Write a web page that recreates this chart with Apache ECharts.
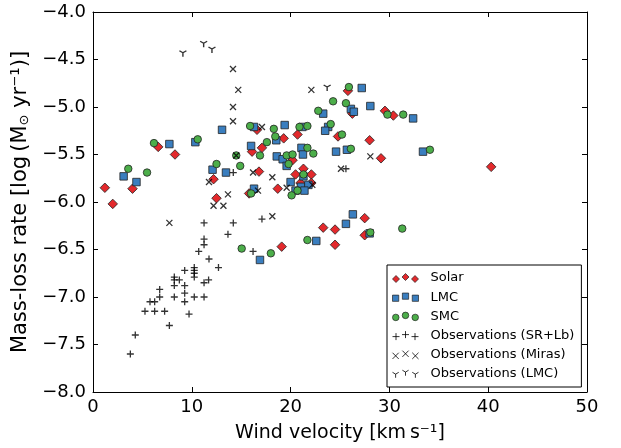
<!DOCTYPE html>
<html>
<head>
<meta charset="utf-8">
<script src="https://cdn.jsdelivr.net/npm/echarts@6/dist/echarts.min.js"></script>
<style>
html,body{margin:0;padding:0;background:#fff;}
#chart{width:621px;height:448px;}
</style>
</head>
<body>
<div id="chart"></div>
<script>
// ---- data: [wind velocity (km/s), log mass-loss rate] ----
var solar = [
  [1.2,-5.85],[2.0,-6.02],[4.0,-5.86],[6.6,-5.42],[8.3,-5.50],[12.2,-5.76],[12.5,-5.96],
  [16.1,-5.47],[15.8,-5.91],[16.8,-5.68],[16.6,-5.24],[17.1,-5.43],[19.3,-5.33],[20.7,-5.29],
  [24.8,-5.31],[28.0,-5.35],[29.15,-5.54],[20.2,-5.56],[21.3,-5.65],[20.5,-5.71],[22.1,-5.71],
  [18.7,-5.86],[21.0,-5.80],[22.1,-5.80],[27.5,-6.17],[23.3,-6.27],[24.5,-6.29],[27.5,-6.35],
  [24.5,-6.45],[19.1,-6.47],[40.3,-5.63],[25.8,-4.83],[26.25,-5.07],[29.55,-5.04],[30.4,-5.09]
];
var lmc = [
  [13.06,-5.24],[16.3,-5.21],[27.2,-4.80],[28.07,-4.99],[26.1,-5.02],[26.4,-5.05],[23.3,-5.07],
  [32.4,-5.12],[19.4,-5.19],[21.2,-5.21],[23.8,-5.21],[23.5,-5.25],[18.55,-5.35],[21.1,-5.43],
  [24.6,-5.47],[25.7,-5.45],[33.4,-5.47],[18.6,-5.52],[19.2,-5.55],[21.25,-5.50],[19.6,-5.62],
  [21.3,-5.73],[20.0,-5.79],[21.05,-5.84],[21.8,-5.82],[20.5,-5.88],[21.4,-5.88],[26.3,-6.13],
  [25.6,-6.23],[28.0,-6.33],[22.6,-6.41],[16.9,-6.61],[7.73,-5.39],[10.36,-5.37],[3.1,-5.73],
  [4.4,-5.79],[12.1,-5.66],[13.46,-5.69],[16.0,-5.41],[16.3,-5.86]
];
var smc = [
  [15.9,-5.20],[10.6,-5.34],[25.9,-4.79],[24.3,-4.94],[25.6,-4.96],[22.8,-5.04],[24.06,-5.18],
  [29.8,-5.08],[31.4,-5.08],[18.3,-5.23],[20.9,-5.21],[21.7,-5.20],[18.45,-5.31],[25.2,-5.29],
  [17.6,-5.37],[16.9,-5.51],[26.1,-5.44],[19.6,-5.51],[20.2,-5.50],[21.7,-5.43],[22.3,-5.49],
  [19.8,-5.60],[21.3,-5.71],[20.7,-5.88],[20.1,-5.93],[28.07,-6.32],[31.3,-6.28],[21.7,-6.40],
  [18.0,-6.54],[34.1,-5.45],[6.17,-5.38],[3.57,-5.65],[5.47,-5.69],[12.5,-5.60],[14.5,-5.51],
  [14.9,-5.62],[16.0,-5.91],[15.05,-6.49]
];
var obsSRLb = [
  [14.2,-5.69],[11.24,-6.22],[14.2,-6.22],[13.66,-6.34],[11.24,-6.39],[11.24,-6.45],[10.7,-6.52],
  [11.74,-6.60],[16.2,-6.52],[9.28,-6.72],[10.25,-6.69],[10.25,-6.72],[10.25,-6.75],[10.25,-6.79],
  [12.7,-6.69],[8.23,-6.79],[8.23,-6.82],[8.74,-6.82],[8.23,-6.88],[9.28,-6.88],[9.28,-6.96],
  [8.23,-7.00],[10.25,-7.00],[11.24,-7.00],[11.24,-6.85],[11.7,-6.82],[6.75,-6.92],[6.75,-7.00],
  [5.77,-7.05],[6.24,-7.05],[9.28,-7.05],[5.26,-7.15],[6.24,-7.15],[7.25,-7.15],[9.72,-7.18],
  [7.73,-7.30],[4.28,-7.40],[3.78,-7.60],[17.1,-6.18],[25.6,-5.65]
];
var obsMiras = [
  [14.17,-4.60],[14.7,-4.82],[14.17,-5.00],[14.17,-5.15],[22.1,-4.82],[17.1,-5.21],[18.15,-5.74],
  [19.6,-5.85],[16.7,-5.88],[22.2,-5.82],[28.07,-5.52],[25.1,-5.65],[18.15,-6.15],[14.5,-5.51],
  [11.74,-5.79],[16.2,-5.69],[13.66,-5.92],[12.2,-6.04],[13.2,-6.04],[7.73,-6.22]
];
var obsLMC = [[9.1,-4.44],[11.2,-4.34],[12.04,-4.40],[23.7,-4.80]];

var seriesNames = ['Solar','LMC','SMC','Observations (SR+Lb)','Observations (Miras)','Observations (LMC)'];
var xTicks = {min:0, max:50, interval:10};
var yTicks = {min:-8, max:-4, interval:0.5};

// ---- styling ----
var RED='#e3292c', BLUE='#3a7ebf', GREEN='#4cae4a';
var plusPath='path://M0,4L8,4M4,0L4,8';
var crossPath='path://M0,0L8,8M0,8L8,0';
var triPath='path://M4,4L4,8M4,4L0.54,2M4,4L7.46,2';

function tri3(fn){ // three legend markers, middle raised
  var cx=[3.5,13,22.5], cy=[5.5,3.5,5.5], s='';
  for(var i=0;i<3;i++) s+=fn(cx[i],cy[i]);
  return 'path://'+s;
}
var iconDiamond=tri3(function(x,y){return 'M'+x+','+(y-3.5)+'L'+(x+3.5)+','+y+'L'+x+','+(y+3.5)+'L'+(x-3.5)+','+y+'Z';});
var iconSquare=tri3(function(x,y){return 'M'+(x-3)+','+(y-3)+'L'+(x+3)+','+(y-3)+'L'+(x+3)+','+(y+3)+'L'+(x-3)+','+(y+3)+'Z';});
var iconCircle=tri3(function(x,y){return 'M'+(x-3.2)+','+y+'A3.2,3.2 0 1,0 '+(x+3.2)+','+y+'A3.2,3.2 0 1,0 '+(x-3.2)+','+y+'Z';});
var iconPlus=tri3(function(x,y){return 'M'+(x-3.5)+','+y+'L'+(x+3.5)+','+y+'M'+x+','+(y-3.5)+'L'+x+','+(y+3.5);});
var iconCross=tri3(function(x,y){return 'M'+(x-3)+','+(y-3)+'L'+(x+3)+','+(y+3)+'M'+(x-3)+','+(y+3)+'L'+(x+3)+','+(y-3);});
var iconTri=tri3(function(x,y){return 'M'+x+','+y+'L'+x+','+(y+3.5)+'M'+x+','+y+'L'+(x-3)+','+(y-1.75)+'M'+x+','+y+'L'+(x+3)+','+(y-1.75);});

var FONT='DejaVu Sans';
function minusFmt(v,dec){var s=Math.abs(v).toFixed(dec);return (v<0?'\u2212':'')+s;}

function axisCommon(extra){
  var o={
    axisLine:{show:true,onZero:false,lineStyle:{color:'#000',width:1}},
    axisTick:{show:true,inside:true,length:5,lineStyle:{color:'#000',width:1}},
    splitLine:{show:false},
    axisLabel:{show:true,color:'#000',fontFamily:FONT,fontSize:18}
  };
  for(var k in extra) o[k]=extra[k];
  return o;
}

var strokeStyle={color:'rgba(0,0,0,0)',borderColor:'#000',borderWidth:1.3};
var option={
  animation:false,
  backgroundColor:'#fff',
  grid:{left:93,right:34,top:12,bottom:56,containLabel:false},
  xAxis:[
    axisCommon({type:'value',position:'bottom',min:xTicks.min,max:xTicks.max,interval:xTicks.interval,
      name:'Wind velocity [km\u2009s\u207B\u00B9]',nameLocation:'middle',nameGap:32,
      nameTextStyle:{color:'#000',fontFamily:FONT,fontSize:19},
      axisLabel:{color:'#000',fontFamily:FONT,fontSize:18,margin:6,formatter:function(v){return String(v);}}}),
    axisCommon({type:'value',position:'top',min:xTicks.min,max:xTicks.max,interval:xTicks.interval,
      axisLabel:{show:false}})
  ],
  yAxis:[
    axisCommon({type:'value',position:'left',min:yTicks.min,max:yTicks.max,interval:yTicks.interval,
      name:'Mass-loss rate [log\u2009(M{sub|\u2299} yr\u207B\u00B9)]',nameLocation:'middle',nameGap:51,
      nameTextStyle:{color:'#000',fontFamily:FONT,fontSize:21,
        rich:{sub:{fontSize:13,fontFamily:FONT,color:'#000',verticalAlign:'bottom',padding:[8,0,0,0]}}},
      axisLabel:{color:'#000',fontFamily:FONT,fontSize:18,margin:7,formatter:function(v){return minusFmt(v,1);}}}),
    axisCommon({type:'value',position:'right',min:yTicks.min,max:yTicks.max,interval:yTicks.interval,
      axisLabel:{show:false}})
  ],
  legend:{
    show:true,orient:'vertical',left:387,top:265,
    padding:[6,7,6,5],itemGap:5.2,itemWidth:26,itemHeight:9,
    backgroundColor:'#fff',borderColor:'#000',borderWidth:1,borderRadius:0,
    textStyle:{color:'#000',fontFamily:FONT,fontSize:13,lineHeight:14,padding:[0,0,0,7]},
    data:[
      {name:seriesNames[0],icon:iconDiamond,itemStyle:{color:RED,borderColor:'#222',borderWidth:0.7}},
      {name:seriesNames[1],icon:iconSquare,itemStyle:{color:BLUE,borderColor:'#222',borderWidth:0.7}},
      {name:seriesNames[2],icon:iconCircle,itemStyle:{color:GREEN,borderColor:'#222',borderWidth:0.7}},
      {name:seriesNames[3],icon:iconPlus,itemStyle:{color:'rgba(0,0,0,0)',borderColor:'#000',borderWidth:1}},
      {name:seriesNames[4],icon:iconCross,itemStyle:{color:'rgba(0,0,0,0)',borderColor:'#000',borderWidth:1}},
      {name:seriesNames[5],icon:iconTri,itemStyle:{color:'rgba(0,0,0,0)',borderColor:'#000',borderWidth:1}}
    ],
    z:10
  },
  series:[
    {name:seriesNames[0],type:'scatter',data:solar,symbol:'diamond',symbolSize:[9.5,9.5],
     itemStyle:{color:RED,borderColor:'#222',borderWidth:0.8,opacity:1}},
    {name:seriesNames[1],type:'scatter',data:lmc,symbol:'rect',symbolSize:7.5,
     itemStyle:{color:BLUE,borderColor:'#222',borderWidth:0.8,opacity:1}},
    {name:seriesNames[2],type:'scatter',data:smc,symbol:'circle',symbolSize:7.5,
     itemStyle:{color:GREEN,borderColor:'#222',borderWidth:0.8,opacity:1}},
    {name:seriesNames[3],type:'scatter',data:obsSRLb,symbol:plusPath,symbolSize:7,
     itemStyle:strokeStyle},
    {name:seriesNames[4],type:'scatter',data:obsMiras,symbol:crossPath,symbolSize:6,
     itemStyle:strokeStyle},
    {name:seriesNames[5],type:'scatter',data:obsLMC,symbol:triPath,symbolSize:[7,6],
     itemStyle:strokeStyle}
  ]
};
var chart=echarts.init(document.getElementById('chart'),null,{renderer:'canvas'});
chart.setOption(option);
</script>
</body>
</html>
